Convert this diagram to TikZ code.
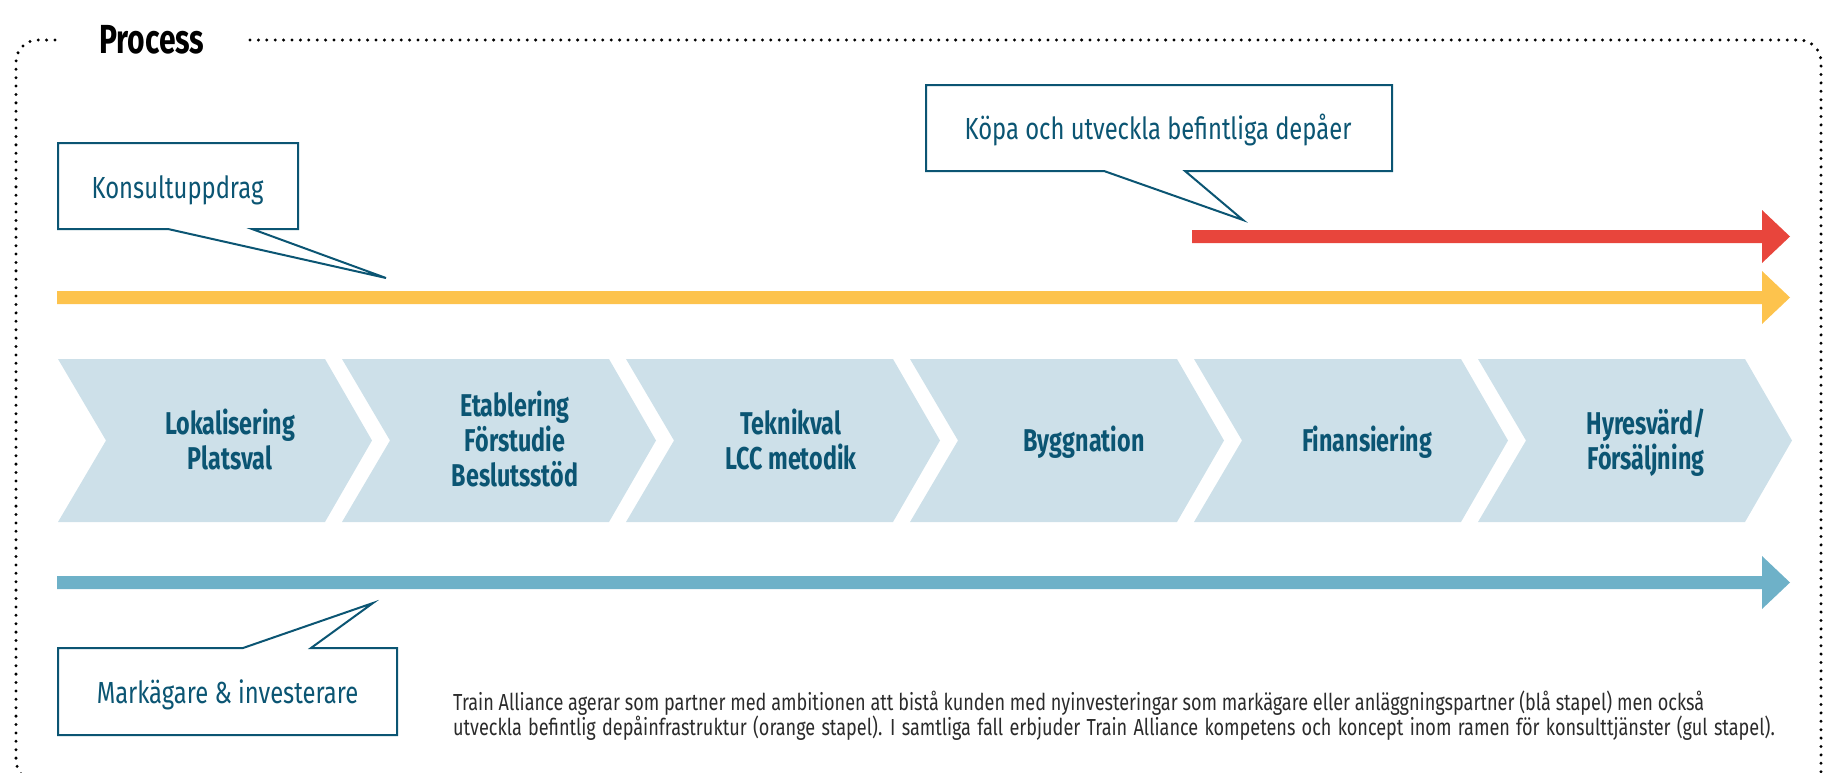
\documentclass[tikz,border=0pt]{standalone}
\usepackage{fontspec}
\setmainfont{Fira Sans}
\newfontfamily\hdfont[FakeStretch=0.74]{Fira Sans}
\newfontfamily\bdfont[FakeStretch=0.78]{Fira Sans}
\definecolor{tadark}{HTML}{0B5573}
\definecolor{chevfill}{HTML}{CDE0E9}
\definecolor{baryellow}{HTML}{FDC34D}
\definecolor{barred}{HTML}{E8453C}
\definecolor{barblue}{HTML}{6EB1C8}
\definecolor{bodygray}{HTML}{2B2B2B}
\begin{document}
\begin{tikzpicture}[x=1pt,y=-1pt,
  frame/.style={line width=3.3pt, dash pattern=on 0pt off 8.4pt, line cap=round, rounded corners=22pt},
  callout/.style={draw=tadark, line width=2pt, fill=white, line join=miter},
  calltext/.style={font=\bdfont\fontsize{30.5}{36}\selectfont, text=tadark, inner sep=0pt, anchor=base},
  chev/.style={fill=chevfill},
  chevtext/.style={font=\hdfont\bfseries\fontsize{31.5}{35}\selectfont, text=tadark, inner sep=0pt, anchor=base},
  bodytext/.style={font=\bdfont\fontsize{23.2}{25}\selectfont, text=bodygray, inner sep=0pt, anchor=base west},
  titletext/.style={font=\hdfont\bfseries\fontsize{40.6}{44}\selectfont, text=black, inner sep=0pt, anchor=base west}
]
\useasboundingbox (0,0) rectangle (1824,772);

% frame
\begin{scope}
\clip (0,0) rectangle (1824,772);
\draw[frame] (55,40) -- (16,40) -- (16,782) -- (60,782);
\draw[frame] (250,40) -- (1821,40) -- (1821,782);
\end{scope}
\node[titletext] (title) at (99,53) {Process};

% bars
\fill[barred] (1192,230) -- (1762,230) -- (1762,210) -- (1790,236.5) -- (1762,263) -- (1762,243) -- (1192,243) -- cycle;
\fill[baryellow] (57,291) -- (1762,291) -- (1762,271) -- (1790,297.5) -- (1762,324) -- (1762,304) -- (57,304) -- cycle;
\fill[barblue] (57,576) -- (1762,576) -- (1762,556) -- (1790,582.5) -- (1762,609) -- (1762,589) -- (57,589) -- cycle;

% callouts
\draw[callout] (58,143) -- (298,143) -- (298,229) -- (252,229) -- (386,278) -- (168,229) -- (58,229) -- cycle;
\node[calltext] (konsult) at (177.5,198) {Konsultuppdrag};
\draw[callout] (926,85) -- (1392,85) -- (1392,171) -- (1185,171) -- (1243,220) -- (1104,171) -- (926,171) -- cycle;
\node[calltext] (kopa) at (1158,139) {Köpa och utveckla befintliga depåer};
\draw[callout] (58,648) -- (243,648) -- (373,603) -- (311,648) -- (397,648) -- (397,735) -- (58,735) -- cycle;
\node[calltext] (mark) at (227.5,703) {Markägare \& investerare};

% chevrons
\foreach \x in {58,342,626,910,1194,1478}{
  \fill[chev] (\x,359) -- ++(267,0) -- ++(47,81.5) -- ++(-47,81.5) -- ++(-267,0) -- ++(48,-81.5) -- cycle;
}
\node[chevtext] (c1a) at (230,434) {Lokalisering};
\node[chevtext] (c1b) at (230,469) {Platsval};
\node[chevtext] (c2a) at (515,416.5) {Etablering};
\node[chevtext] (c2b) at (515,451.5) {Förstudie};
\node[chevtext] (c2c) at (515,486.5) {Beslutsstöd};
\node[chevtext] (c3a) at (791,434) {Teknikval};
\node[chevtext] (c3b) at (791,469) {LCC metodik};
\node[chevtext] (c4a) at (1084,451.5) {Byggnation};
\node[chevtext] (c5a) at (1367,451.5) {Finansiering};
\node[chevtext] (c6a) at (1646,434) {Hyresvärd/};
\node[chevtext] (c6b) at (1646,469) {Försäljning};

% body text
\node[bodytext] (body1) at (453,710) {Train Alliance agerar som partner med ambitionen att bistå kunden med nyinvesteringar som markägare eller anläggningspartner (blå stapel) men också};
\node[bodytext] (body2) at (453,735) {\spaceskip=6.25pt plus 1pt utveckla befintlig depåinfrastruktur (orange stapel). I samtliga fall erbjuder Train Alliance kompetens och koncept inom ramen för konsulttjänster (gul stapel).};
\end{tikzpicture}
\end{document}
